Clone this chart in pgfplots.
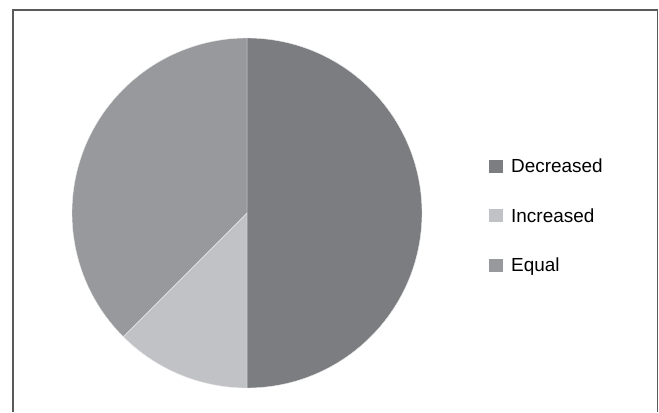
\documentclass[border=0pt]{standalone}
\usepackage{pgfplots}
\usepackage{pgfplotstable}
\pgfplotsset{compat=1.18}
\usepackage{fontspec}
\setmainfont{Liberation Sans}
\definecolor{cDec}{HTML}{7C7D81}
\definecolor{cInc}{HTML}{C1C2C6}
\definecolor{cEq}{HTML}{98999D}
\definecolor{frame}{HTML}{5A5A5A}
\pgfplotstableread{
label value
Decreased 50
Increased 12.5
Equal 37.5
}\piedata
\pgfplotstablegetelem{0}{value}\of\piedata \let\vA\pgfplotsretval
\pgfplotstablegetelem{1}{value}\of\piedata \let\vB\pgfplotsretval
\pgfplotstablegetelem{2}{value}\of\piedata \let\vC\pgfplotsretval
\pgfmathsetmacro{\tot}{\vA+\vB+\vC}
\pgfmathsetmacro{\aA}{90}
\pgfmathsetmacro{\aB}{90-360*(\vA/\tot)}
\pgfmathsetmacro{\aC}{\aB-360*(\vB/\tot)}
\pgfmathsetmacro{\aD}{\aC-360*(\vC/\tot)}
\begin{document}
\begin{tikzpicture}
\begin{axis}[
  scale only axis, width=659bp, height=412bp,
  xmin=0, xmax=659, ymin=0, ymax=412,
  hide axis, clip=false,
  legend style={at={(axis cs:489,255)}, anchor=north west, draw=none, fill=none,
    font=\fontsize{19}{21}\selectfont, row sep=30bp,
    legend cell align=left, inner sep=0pt},
  legend image code/.code={\fill[#1] (0bp,-6.5bp) rectangle (14bp,6.5bp);},
]
\addlegendimage{fill=cDec, draw=none}
\addlegendentry{\hspace{6bp}Decreased}
\addlegendimage{fill=cInc, draw=none}
\addlegendentry{\hspace{6bp}Increased}
\addlegendimage{fill=cEq, draw=none}
\addlegendentry{\hspace{6bp}Equal}
\path (axis cs:0,0) rectangle (axis cs:659,412);
\fill[cDec, draw=white!85!gray, line width=0.4bp] (axis cs:247,199) -- ++(\aA:175bp) arc[start angle=\aA, end angle=\aB, radius=175bp] -- cycle;
\fill[cInc, draw=white!85!gray, line width=0.4bp] (axis cs:247,199) -- ++(\aB:175bp) arc[start angle=\aB, end angle=\aC, radius=175bp] -- cycle;
\fill[cEq, draw=white!85!gray, line width=0.4bp] (axis cs:247,199) -- ++(\aC:175bp) arc[start angle=\aC, end angle=\aD, radius=175bp] -- cycle;
\draw[frame, line width=1.3bp] (axis cs:13,0) -- (axis cs:13,402) -- (axis cs:657.5,402) -- (axis cs:657.5,0);
\end{axis}
\end{tikzpicture}
\end{document}
